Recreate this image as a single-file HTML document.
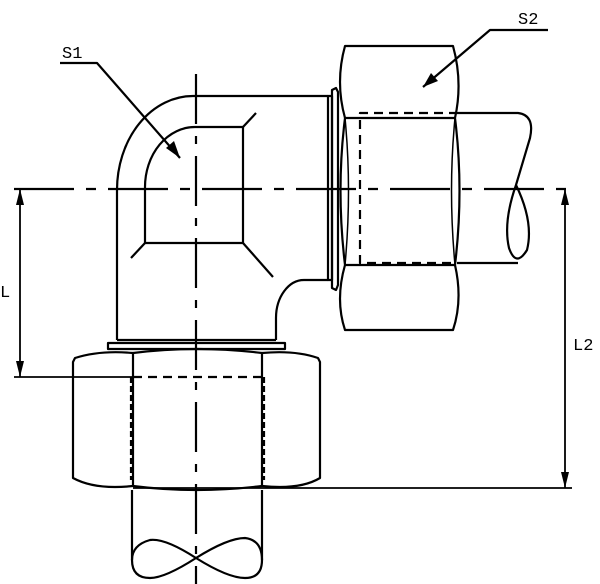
<!DOCTYPE html>
<html><head><style>html,body{margin:0;padding:0;background:#fff;}svg{display:block}</style></head>
<body>
<svg width="600" height="584" viewBox="0 0 600 584" xmlns="http://www.w3.org/2000/svg">
<g fill="none" stroke="#000" stroke-width="2.2" stroke-linejoin="round">
<!-- centerlines -->
<line x1="14" y1="189" x2="572" y2="189" stroke-dasharray="60,12,10,12"/>
<line x1="196" y1="74" x2="196" y2="584" stroke-dasharray="50,12,8,12"/>
<!-- elbow body -->
<path d="M117,340 L117,190 A76,94 0 0 1 193,96 L328,96"/>
<path d="M145,187 A50,60 0 0 1 195,127 L243,127 L243,243 L145,243 Z"/>
<line x1="243" y1="127" x2="256" y2="113"/>
<line x1="145" y1="243" x2="131" y2="258"/>
<line x1="243" y1="243" x2="273" y2="277"/>
<path d="M276,340 L276,318 A28,38 0 0 1 304,280 L328,280"/>
<!-- right flange -->
<rect x="328" y="96" width="4" height="184"/>
<path d="M332,90 L336,88 L338,92 L338,285 L336,290 L332,288 Z"/>
<!-- bottom flange -->
<line x1="117" y1="340" x2="276" y2="340"/>
<rect x="108" y="343" width="177" height="6"/>
<!-- bottom nut -->
<path d="M133,353 Q100,350 75,358 L73,362 L73,478 Q95,490 133,486"/>
<path d="M262,353 Q295,350 318,358 L320,362 L320,478 Q300,490 262,486"/>
<path d="M133,353 Q196,345 262,353 M133,486 Q196,494 262,486"/>
<path d="M133,353 L133,486 M262,353 L262,486"/>
<line x1="133" y1="377" x2="262" y2="377" stroke-dasharray="9,6"/>
<line x1="131" y1="377" x2="131" y2="480" stroke-dasharray="6,3"/>
<line x1="264" y1="377" x2="264" y2="480" stroke-dasharray="6,3"/>
<!-- bottom pipe -->
<line x1="132" y1="490" x2="132" y2="560"/>
<line x1="262" y1="490" x2="262" y2="560"/>
<path d="M262,560 Q262,578 245,578 Q228,578 196,558 Q165,538 150,540 Q132,545 132,560 Q132,578 150,578 Q165,578 196,558 Q228,538 245,538 Q262,540 262,560"/>
<!-- right nut -->
<path d="M345,46 L453,46 Q463,82 455,118 Q464,190 455,265 Q463,300 453,330 L345,330 Q335,300 345,265 Q336,190 345,118 Q335,82 345,46 Z"/>
<path d="M345,118 L455,118 M345,265 L455,265"/>
<path d="M345,118 Q352,190 345,265 M455,118 Q448,190 455,265" stroke-width="1.5"/>
<path d="M458,113 L360,113 L360,263 L458,263" stroke-dasharray="9,6"/>
<!-- right pipe -->
<path d="M458,113 L518,113 Q535,115 530,138 L516,185 Q503,222 509,248 Q516,268 527,250 Q534,222 516,185"/>
<line x1="458" y1="263" x2="518" y2="263"/>
<!-- dimension L -->
<line x1="20" y1="189" x2="20" y2="377" stroke-width="1.8"/>
<line x1="14" y1="377" x2="133" y2="377" stroke-width="1.8"/>
<!-- dimension L2 -->
<line x1="565" y1="189" x2="565" y2="488" stroke-width="1.8"/>
<line x1="133" y1="488" x2="572" y2="488" stroke-width="1.8"/>
<!-- leaders -->
<path d="M60,63 L97,63 L180,158"/>
<path d="M548,30 L490,30 L423,87"/>
</g>
<g fill="#000">
<path d="M20,189 L16,205 L24,205 Z"/>
<path d="M20,377 L16,361 L24,361 Z"/>
<path d="M565,189 L561,205 L569,205 Z"/>
<path d="M565,488 L561,472 L569,472 Z"/>
<path d="M180,158 L166,148 L174,141 Z"/>
<path d="M423,87 L431,73 L438,81 Z"/>
</g>
<g font-family="Liberation Mono, monospace" font-size="17" fill="#000">
<text x="62" y="58">S1</text>
<text x="518" y="24">S2</text>
<text x="0" y="297">L</text>
<text x="573" y="350">L2</text>
</g>
</svg>
</body></html>
